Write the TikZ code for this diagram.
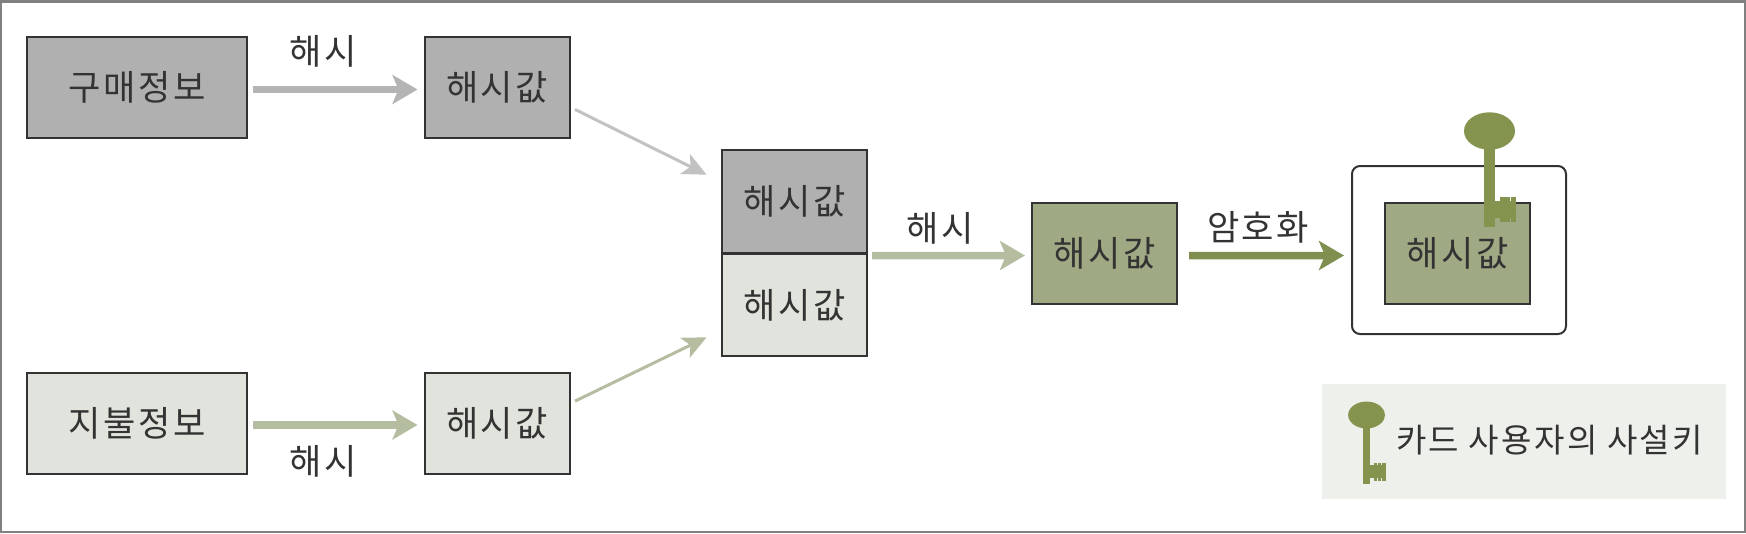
\documentclass[tikz,border=0pt]{standalone}
\usepackage{fontspec}
\usepackage{xcolor}
\usepackage{tikz}
\usetikzlibrary{arrows.meta}
\setmainfont[LetterSpace=7]{Noto Sans CJK KR}
\definecolor{boxgray}{HTML}{B0B0B0}
\definecolor{boxpale}{HTML}{E1E4DC}
\definecolor{boxgreen}{HTML}{9FA983}
\definecolor{keygreen}{HTML}{84944F}
\definecolor{arrowgray}{HTML}{B4B4B4}
\definecolor{arrowthin}{HTML}{C2C2C2}
\definecolor{arrowpale}{HTML}{B5BDA1}
\definecolor{arrowdark}{HTML}{7F8F4F}
\definecolor{legendbg}{HTML}{EEF0EC}
\definecolor{inktext}{HTML}{333333}

\begin{document}
\begin{tikzpicture}[x=1cm,y=-1cm,
box node/.style={draw=black!80,line width=0.02cm,inner sep=0,minimum height=1.01cm,minimum width=1.45cm,text=inktext,font=\fontsize{10pt}{11pt}\selectfont},
wide node/.style={box node,minimum width=2.19cm},
label node/.style={inner sep=0,text=inktext,font=\fontsize{10pt}{11pt}\selectfont},
fat edge/.style={line width=0.075cm,-{Stealth[length=0.25cm,width=0.29cm,inset=0.06cm]},shorten <=0.05cm,shorten >=0.06cm},
thin edge/.style={line width=0.03cm,-{Stealth[length=0.24cm,width=0.22cm,inset=0.06cm]},shorten <=0.05cm,shorten >=0.16cm},
key/.pic={
\fill[keygreen] (0,0) ellipse (0.255 and 0.187);
\fill[keygreen] (-0.055,0.1) rectangle (0.055,0.96);
\fill[keygreen] (0.05,0.70) rectangle (0.265,0.87);
\foreach \x in {0.10,0.155,0.215} {\fill[keygreen] (\x,0.66) rectangle (\x+0.05,0.91);}
}]
\useasboundingbox (0,0) rectangle (17.46,5.33);
\draw[draw=black!50,line width=0.025cm] (0.0125,0.0125) rectangle (17.4475,5.3175);

\node[wide node,fill=boxgray] (buy) at (1.37,0.875) {구매정보};
\node[box node,fill=boxgray] (buyhash) at (4.97,0.875) {해시값};
\node[wide node,fill=boxpale] (pay) at (1.37,4.23) {지불정보};
\node[box node,fill=boxpale] (payhash) at (4.97,4.23) {해시값};
\node[box node,fill=boxgray,minimum height=1.03cm] (midtop) at (7.945,2.015) {해시값};
\node[box node,fill=boxpale,minimum height=1.02cm] (midbot) at (7.945,3.05) {해시값};
\coordinate (midjoin) at (8.67,2.555);
\node[box node,fill=boxgreen] (sum) at (11.045,2.535) {해시값};
\node[draw=black!80,line width=0.02cm,rounded corners=0.08cm,minimum width=2.14cm,minimum height=1.68cm,inner sep=0] (card) at (14.59,2.5) {};
\coordinate (cardin) at (13.52,2.555);
\node[box node,fill=boxgreen] (signed) at (14.575,2.535) {해시값};

\node[label node] (hashup) at (3.23,0.51) {해시};
\node[label node] (hashdown) at (3.23,4.61) {해시};
\node[label node] (hashmid) at (9.4,2.285) {해시};
\node[label node] (encrypt) at (12.58,2.27) {암호화};

\node[fill=legendbg,inner sep=0,minimum width=4.04cm,minimum height=1.15cm] (legend) at (15.24,4.415) {};
\node[inner sep=0,text=inktext,font=\fontsize{9.4pt}{11pt}\selectfont] (legendtext) at (15.495,4.40) {카드 사용자의 사설키};

\path
([yshift=-0.02cm]buy.east) edge[fat edge,arrowgray] ([yshift=-0.02cm]buyhash.west)
([yshift=-0.02cm]pay.east) edge[fat edge,arrowpale] ([yshift=-0.02cm]payhash.west)
(buyhash.-15) edge[thin edge,arrowthin] (midtop.165)
(payhash.15) edge[thin edge,arrowpale] (midbot.199)
(midjoin) edge[fat edge,arrowpale] ([yshift=-0.02cm]sum.west)
([yshift=-0.02cm]sum.east) edge[fat edge,arrowdark,shorten >=0.08cm,shorten <=0.11cm] (cardin);

\pic at (14.895,1.31) {key};
\pic[scale=0.72] at (13.665,4.15) {key};
\end{tikzpicture}
\end{document}
